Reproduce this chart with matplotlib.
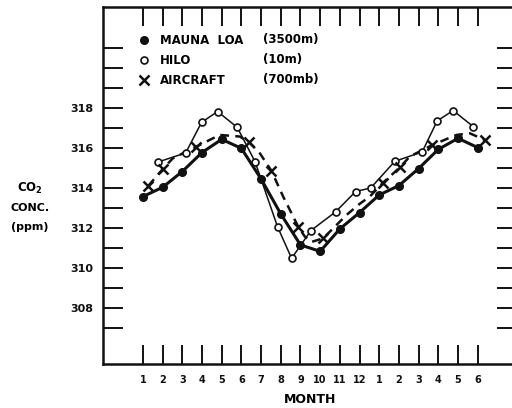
import matplotlib.pyplot as plt
from matplotlib.lines import Line2D

# months run Jan..Dec then Jan..Jun of the next year (index 1..18)
month_idx = list(range(1, 19))
month_labels = ['1', '2', '3', '4', '5', '6', '7', '8', '9', '10', '11', '12',
                '1', '2', '3', '4', '5', '6']

mauna_loa = [313.57, 314.03, 314.82, 315.77, 316.43, 315.98, 314.45, 312.70,
             311.15, 310.83, 311.95, 312.77, 313.65, 314.12, 314.97, 315.93,
             316.48, 316.02]

hilo_x = [1.78, 3.17, 3.98, 4.79, 5.79, 6.69, 7.84, 8.55, 9.53, 10.78, 11.80,
          12.57, 13.79, 15.18, 15.94, 16.75, 17.77]
hilo = [315.30, 315.75, 317.28, 317.82, 317.03, 315.32, 312.05, 310.48, 311.87,
        312.80, 313.82, 314.00, 315.33, 315.80, 317.35, 317.87, 317.07]

aircraft_x = [1.27, 2.03, 3.72, 6.40, 7.52, 8.88, 10.15, 13.20, 14.05, 15.70,
              18.36]
aircraft = [314.10, 314.97, 316.07, 316.28, 314.87, 312.07, 311.48, 314.27,
            315.03, 316.15, 316.40]

# dashed smooth curve drawn through the aircraft data
curve_x = [1.27, 2.03, 2.52, 3.72, 4.90, 5.92, 6.40, 6.94, 7.52, 8.12, 8.63,
           8.88, 9.22, 9.56, 10.15, 10.58, 11.34, 12.00, 12.52, 13.20, 14.05,
           14.55, 15.70, 16.92, 17.60, 18.36]
curve = [314.10, 314.97, 315.48, 316.07, 316.65, 316.57, 316.28, 315.73,
         314.87, 313.57, 312.57, 312.07, 311.57, 311.30, 311.48, 311.90,
         312.65, 313.20, 313.57, 314.27, 315.03, 315.57, 316.15, 316.65,
         316.73, 316.40]

y_ticks = list(range(307, 322))
y_labels = [str(v) if v % 2 == 0 and 308 <= v <= 318 else '' for v in y_ticks]

legend_names = ['MAUNA  LOA', 'HILO', 'AIRCRAFT']
legend_alts = ['(3500m)', '(10m)', '(700mb)']

plt.rcParams['font.family'] = ['DejaVu Sans']
plt.rcParams['font.weight'] = 'bold'

fig = plt.figure(figsize=(5.12, 4.08), dpi=100)
ax = fig.add_axes([0.201, 0.108, 0.809, 0.875])

ink = '#111111'
ax.plot(curve_x, curve, color=ink, lw=1.8, ls=(0, (3.5, 2.5)), zorder=2)
ax.plot(aircraft_x, aircraft, ls='none', marker='x', ms=7, mew=1.8,
        color=ink, zorder=4)
ax.plot(hilo_x, hilo, color=ink, lw=1.1, marker='o', ms=5, mew=1.2,
        mfc='white', mec=ink, zorder=3)
ax.plot(month_idx, mauna_loa, color=ink, lw=2.2, marker='o', ms=5.5,
        mfc=ink, mec=ink, zorder=5)

ax.set_xlim(-1.03, 20)
ax.set_ylim(305.2, 323.05)

ax.set_xticks(month_idx)
ax.set_xticklabels(month_labels, fontsize=7, fontweight='bold')
ax.set_yticks(y_ticks)
ax.set_yticklabels(y_labels, fontsize=8, fontweight='bold')
ax.tick_params(axis='x', direction='in', length=13.7, width=1.4, top=True,
               pad=8, colors=ink)
ax.tick_params(axis='y', direction='in', length=14.4, width=1.4, right=True,
               pad=7, colors=ink)
for s in ax.spines.values():
    s.set_linewidth(1.8)
    s.set_color(ink)
ax.spines['right'].set_visible(False)

ax.set_xlabel('MONTH', fontsize=9, fontweight='bold', labelpad=6)

handles = [Line2D([], [], ls='none', marker='o', ms=5.5, color=ink),
           Line2D([], [], ls='none', marker='o', ms=5, mfc='white', mec=ink,
                  mew=1.2),
           Line2D([], [], ls='none', marker='x', ms=7, mew=1.8, color=ink)]
leg = ax.legend(handles, legend_names, loc='upper left', frameon=False,
                bbox_to_anchor=(0.063, 0.954), handlelength=0.8,
                handletextpad=0.9, labelspacing=0.58,
                prop={'size': 8.5, 'weight': 'bold'})
for i, alt in enumerate(legend_alts):
    ax.text(0.386, 0.908 - i * 0.056, alt, transform=ax.transAxes,
            fontsize=8.5, fontweight='bold', va='center', ha='left')

fig.text(0.058, 0.539, 'CO$_\\mathbf{2}$', fontsize=8.5, fontweight='bold',
         ha='center', va='center')
fig.text(0.058, 0.490, 'CONC.', fontsize=8, fontweight='bold',
         ha='center', va='center')
fig.text(0.058, 0.443, '(ppm)', fontsize=8, fontweight='bold',
         ha='center', va='center')

fig.savefig('out.png', dpi=100)
